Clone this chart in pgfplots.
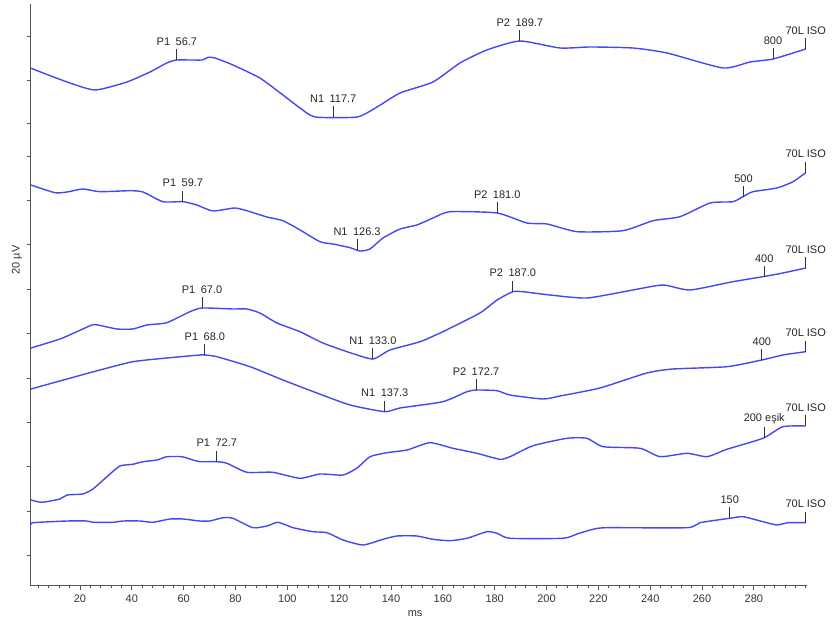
\documentclass[border=0pt]{standalone}
\usepackage{fontspec}
\setmainfont{Liberation Sans}
\usepackage{pgfplots}
\usepackage{pgfplotstable}
\pgfplotsset{compat=1.18}
\definecolor{trace}{RGB}{70,70,245}
\definecolor{axgray}{RGB}{85,85,85}
\pgfdeclareplotmark{uptick}{\pgfpathmoveto{\pgfpointorigin}\pgfpathlineto{\pgfpoint{0pt}{11pt}}\pgfusepathqstroke}

% x in ms, y in display units (one y tick ~ 44 units)
\pgfplotstableread{
x y
1.1 517.7
15.0 504
25.8 496
38.1 504
47.0 514
53.5 523
57.4 526
67.0 526
69.4 528.7
72.1 528
79.0 521
89.4 508
98.3 491
104.9 478
110.7 469
126.9 469
134.6 479
143.5 493
156.2 504
166.6 523
177.0 536
189.7 545
205.2 538
216.8 539
233.3 538
246.5 533
268.1 518
278.5 524
287.4 527
300 537
}\traceA
\pgfplotstableread{
x y
1.1 401
10.3 393.3
15.0 394
21.1 397
27.7 394.3
39.3 395.3
44.3 394
52.0 384.3
59.7 384.3
65.1 381
71.3 375
79.8 378
85.6 374.3
92.1 369
98.3 365.3
104.9 356
112.6 344.3
117.6 342
124.2 338.3
128.0 335
131.9 337
136.9 348
143.5 357
150.0 361
156.2 368
162.7 374.3
180.9 373
192.4 363
200.2 362
211.8 354.3
229.5 355.3
241.1 365.3
251.5 369.3
263.1 383
271.9 384.3
275.8 389.3
279.6 394.3
288.9 398
295.1 404.3
300 413.3
}\traceB
\pgfplotstableread{
x y
1.1 238
12.3 247
18.8 254.3
24.6 261
26.9 261
34.3 257
40.4 257
45.8 261
53.5 263.3
62.4 274.3
67.1 278
79.0 277
84.4 277
89.4 273
96.0 263
104.9 254.3
113.7 243
124.2 233.3
133.0 227
139.6 236
151.2 244.3
160.0 254.3
174.3 273
180.9 286
187.0 294.3
190.9 294.3
201.3 291
215.6 288
233.3 296
244.9 301
255.3 296
271.9 304.3
283.5 309.3
291.2 313
300 318
}\traceC
\pgfplotstableread{
x y
1.1 197
15.0 207
27.7 216
40.4 224.3
53.5 228
66.3 231
68.2 231
72.8 229.3
85.6 219.3
98.3 206
111.4 193
124.2 181
137.6 174.3
143.5 178
160.0 184.3
169.3 194.3
173.1 196
180.9 195.3
185.9 191
198.6 187
205.2 190
220.6 198
238.7 213
248.8 217
269.6 219.3
283.1 226
291.2 231
300 234.3
}\traceD
\pgfplotstableread{
x y
1.1 86
5.3 83.7
12.3 87
15.0 91
21.1 92
25.0 97
30.4 109.3
35.4 120
40.4 121.7
44.3 124.3
49.7 126
53.5 129.3
59.3 129.3
63.6 126
66.3 124.3
72.8 124.3
76.7 122.7
84.4 113.7
94.4 113.7
104.9 107.7
112.6 112
121.5 111
126.9 118
131.9 129.3
138.4 133.3
146.2 136
155.0 143.3
163.9 137.7
173.1 132.7
182.0 126.7
185.9 129.3
194.8 140.3
207.9 147.7
215.6 147.7
221.8 139.3
236.1 137.7
243.8 129.3
254.2 132.7
261.9 129.3
269.6 136.7
283.5 147.7
291.2 159.3
300 160
}\traceE
\pgfplotstableread{
x y
1.1 61
1.9 63.3
15.0 65
22.7 65
25.0 63.7
32.7 63.7
36.6 65
43.1 65
48.1 63.7
54.7 67
59.7 67
66.3 65
70.1 65
75.2 68.3
79.0 67.7
86.7 58.3
92.1 60
96.4 63.7
102.2 58.3
109.9 54.3
115.3 53.3
121.5 46
129.2 41
136.9 46.7
142.3 50
150.0 50
156.2 46.7
162.7 45.3
169.3 47.7
177.0 54.3
180.9 52.7
185.9 47.7
206.3 47.7
211.8 52
217.9 56.7
223.3 58.3
254.2 58.3
259.2 63.3
270.7 67.7
275.8 69.3
283.5 64.3
288.9 61
293.1 63.3
300 63.3
}\traceF

\pgfplotstableread[col sep=comma]{
x,y,label
57.4,526,P1\enspace 56.7
117.7,469,N1\enspace 117.7
189.7,545,P2\enspace 189.7
287.4,527,800
300,537,70L ISO
59.7,384.3,P1\enspace 59.7
126.9,336,N1\enspace 126.3
181.0,373,P2\enspace 181.0
276.0,389,500
300,413.3,70L ISO
67.1,278,P1\enspace 67.0
133.0,227,N1\enspace 133.0
187.0,294.3,P2\enspace 187.0
284.0,309,400
300,318,70L ISO
68.2,231,P1\enspace 68.0
137.6,174.3,N1\enspace 137.3
172.8,196,P2\enspace 172.7
283.1,226,400
300,234.3,70L ISO
72.8,124.3,P1\enspace 72.7
284.0,147.5,200 eşik
300,160,70L ISO
270.7,67.7,150
300,63.3,70L ISO
}\markers

\begin{document}
\begin{tikzpicture}
\begin{axis}[
  scale only axis,
  width=776pt, height=582pt,
  xmin=1.1, xmax=300.5,
  ymin=0, ymax=582,
  axis lines=left,
  axis line style={-, axgray, line width=1pt},
  tick align=outside,
  tick style={axgray, line width=0.8pt},
  major tick length=4pt,
  minor tick length=2.5pt,
  xtick={20,40,...,280},
  minor xtick={4,8,...,300},
  ytick={31,75,120,164,208,253,297,342,386,430,463,506,550},
  yticklabels={},
  clip=false,
  /pgf/number format/assume math mode=true,
  tick label style={font=\fontsize{11}{13}\selectfont, text=black!80},
  xticklabel style={yshift=-1.5pt},
  label style={font=\fontsize{11}{13}\selectfont, text=black!80},
  xlabel={ms},
  xlabel style={at={(axis description cs:0.495,-0.048)}, anchor=center},
  ylabel={20 µV},
  ylabel style={at={(axis description cs:-0.018,0.56)}, anchor=center},
]
\addplot[trace, line width=1.4pt, smooth, tension=0.35] table {\traceA};
\addplot[trace, line width=1.4pt, smooth, tension=0.35] table {\traceB};
\addplot[trace, line width=1.4pt, smooth, tension=0.35] table {\traceC};
\addplot[trace, line width=1.4pt, smooth, tension=0.35] table {\traceD};
\addplot[trace, line width=1.4pt, smooth, tension=0.35] table {\traceE};
\addplot[trace, line width=1.4pt, smooth, tension=0.35] table {\traceF};
\addplot[only marks, mark=uptick, mark options={draw=black!80, line width=0.9pt},
  point meta=explicit symbolic,
  nodes near coords,
  every node near coord/.append style={anchor=south, yshift=11pt, font=\fontsize{11}{13}\selectfont, text=black!85}]
  table[x=x, y=y, meta=label] {\markers};
\end{axis}
\pgfresetboundingbox
\path[use as bounding box] (current axis.south west) ++(-31pt,-37pt) rectangle ++(832pt,623pt);
\end{tikzpicture}
\end{document}
